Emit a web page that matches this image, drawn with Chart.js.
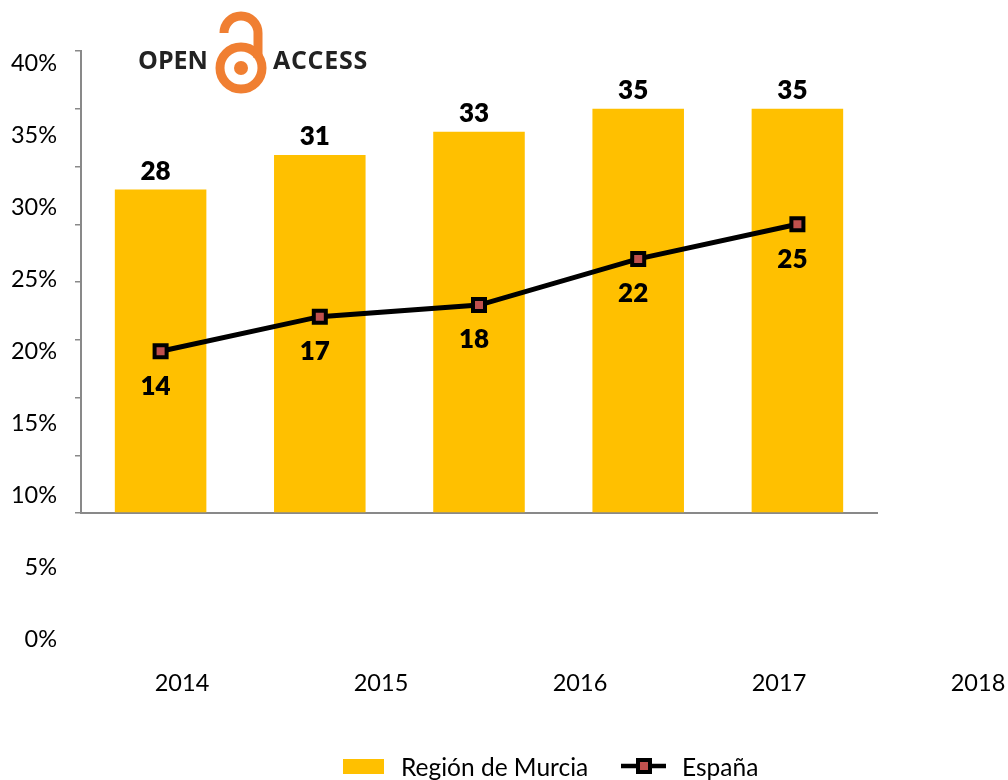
<!DOCTYPE html>
<html>
<head>
<meta charset="utf-8">
<style>html,body{margin:0;padding:0;background:#fff}canvas{display:block}</style>
<script src="https://cdn.jsdelivr.net/npm/chart.js@4"></script>
</head>
<body>
<canvas id="c" width="1008" height="780"></canvas>
<script>
const categories = ['2014', '2015', '2016', '2017', '2018'];
const murcia = [28, 31, 33, 35, 35];
const espana = [14, 17, 18, 22, 25];
const xTickLabels = ['2014', '2015', '2016', '2017', '2018'];
const yTickLabels = ['40%', '35%', '30%', '25%', '20%', '15%', '10%', '5%', '0%'];
const FONT = 'Lato, "Open Sans", sans-serif';

const overlay = {
  id: 'overlay',
  afterDatasetsDraw(chart) {
    const c = chart.ctx;
    c.save();
    // detached axis labels
    c.fillStyle = '#000';
    c.font = '23.5px ' + FONT;
    c.textBaseline = 'middle';
    c.textAlign = 'right';
    yTickLabels.forEach((t, i) => c.fillText(t, 57, 63 + 72 * i));
    c.textAlign = 'center';
    xTickLabels.forEach((t, i) => c.fillText(t, 182 + 199 * i, 683));

    // value labels
    c.fillStyle = '#000';
    c.font = '800 26px ' + FONT;
    chart.getDatasetMeta(0).data.forEach((el, i) => c.fillText(murcia[i], el.x - 5, el.y - 18));
    chart.getDatasetMeta(1).data.forEach((el, i) => c.fillText(espana[i], el.x - 5, el.y + 35));

    // legend
    c.fillStyle = '#FFC000';
    c.fillRect(343, 759, 41, 15);
    c.fillStyle = '#000';
    c.font = '24.5px ' + FONT;
    c.textAlign = 'left';
    c.fillText(chart.data.datasets[0].label, 401, 768);
    c.fillText(chart.data.datasets[1].label, 682, 768);
    c.strokeStyle = '#000';
    c.lineWidth = 4.5;
    c.beginPath(); c.moveTo(621, 766); c.lineTo(666, 766); c.stroke();
    c.fillStyle = '#C0504D';
    c.lineWidth = 4;
    c.beginPath(); c.rect(638, 760, 12, 12); c.fill(); c.stroke();

    // logo
    c.strokeStyle = c.fillStyle = '#F07F32';
    c.lineWidth = 9;
    c.beginPath(); c.arc(241, 68, 21, 0, Math.PI * 2); c.stroke();
    c.beginPath(); c.arc(241, 33, 17, Math.PI, 0); c.lineTo(258, 58); c.stroke();
    c.beginPath(); c.arc(241, 68, 7, 0, Math.PI * 2); c.fill();
    c.fillStyle = '#222';
    c.font = 'bold 25px "Open Sans", sans-serif';
    c.textAlign = 'left';
    c.fillText('OPEN', 138, 62);
    c.letterSpacing = '0.7px';
    c.fillText('ACCESS', 273, 62);
    c.restore();
  }
};

new Chart(document.getElementById('c'), {
  data: {
    labels: categories,
    datasets: [
      { type: 'bar', label: 'Región de Murcia', data: murcia, order: 2,
        backgroundColor: '#FFC000', barPercentage: 0.575, categoryPercentage: 1 },
      { type: 'line', label: 'España', data: espana, order: 1,
        borderColor: '#000', borderWidth: 5, tension: 0,
        pointStyle: 'rect', pointRadius: 8.5, pointHoverRadius: 8.5,
        pointBackgroundColor: '#C0504D', pointBorderColor: '#000', pointBorderWidth: 4 }
    ]
  },
  options: {
    responsive: false,
    animation: false,
    layout: { padding: { left: 75, right: 131, top: 51, bottom: 259 } },
    plugins: { legend: { display: false }, tooltip: { enabled: false } },
    scales: {
      x: {
        ticks: { display: false },
        grid: { display: false },
        border: { display: true, color: '#898989', width: 2 }
      },
      y: {
        min: 0, max: 40,
        ticks: { display: false, stepSize: 5 },
        grid: { drawOnChartArea: false, tickLength: 6, color: '#898989', lineWidth: 1.5 },
        border: { display: true, color: '#898989', width: 2 }
      }
    }
  },
  plugins: [overlay]
});
</script>
</body>
</html>
